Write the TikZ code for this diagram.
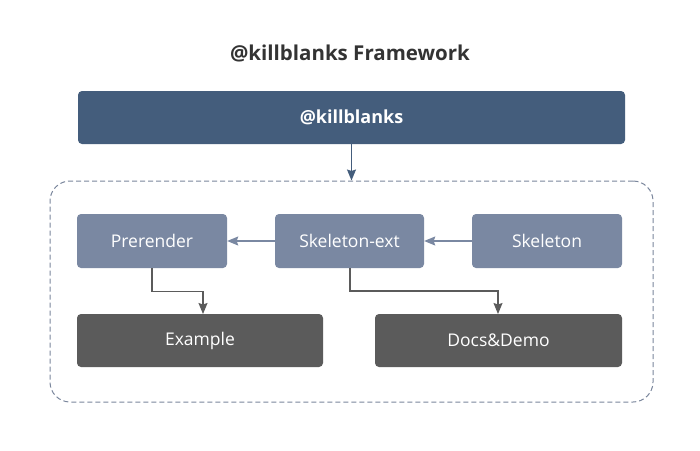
\documentclass[tikz,border=0pt]{standalone}
\usepackage{fontspec}
\setmainfont{Open Sans}
\usetikzlibrary{arrows.meta}
\definecolor{topblue}{HTML}{445D7C}
\definecolor{midblue}{HTML}{7A88A2}
\definecolor{darkgray}{HTML}{5B5B5B}
\definecolor{titlegray}{HTML}{333333}
\definecolor{dashgray}{HTML}{7A869C}
\begin{document}
\begin{tikzpicture}[x=1pt,y=-1pt,
  boxstyle/.style={rounded corners=4pt, inner sep=0pt, text=white, font=\fontsize{17.5}{20}\selectfont},
  lightbox/.style={boxstyle, fill=midblue},
  darkbox/.style={boxstyle, fill=darkgray},
  arrowtip/.style={-{Stealth[length=11pt,width=9pt,inset=1.5pt]}, line width=1.2pt}
]
\useasboundingbox (0,0) rectangle (700,450);
\fill[white] (0,0) rectangle (700,450);
\node[font=\bfseries\fontsize{20.5}{24}\selectfont, text=titlegray] (title) at (350,53) {@killblanks Framework};
\node[boxstyle, fill=topblue, minimum width=547pt, minimum height=53pt, font=\bfseries\fontsize{18}{21}\selectfont] (kb) at (351.5,117.5) {@killblanks};
\node[draw=dashgray, dash pattern=on 5pt off 3pt, line width=1pt, rounded corners=20pt, minimum width=603pt, minimum height=221pt, inner sep=0pt] (cont) at (351.5,291.5) {};
\node[lightbox, minimum width=150pt, minimum height=54pt] (pre) at (152,241) {Prerender};
\node[lightbox, minimum width=149pt, minimum height=54pt] (ext) at (349.5,241) {Skeleton-ext};
\node[lightbox, minimum width=150pt, minimum height=54pt] (sk) at (547,241) {Skeleton};
\node[darkbox, minimum width=246pt, minimum height=53pt] (ex) at (200,340.5) {Example};
\node[darkbox, minimum width=247pt, minimum height=53pt] (docs) at (498.5,340.5) {Docs\&Demo};
\draw[arrowtip, draw=topblue] (kb.south) -- (cont.north);
\draw[arrowtip, draw=midblue] (ext.west) -- (pre.east);
\draw[arrowtip, draw=midblue] (sk.west) -- (ext.east);
\coordinate (exin) at (203,314);
\coordinate (docsin) at (498,314);
\draw[arrowtip, draw=darkgray] (pre.south) -- ++(0,23) -| (exin);
\draw[arrowtip, draw=darkgray] (ext.south -| 350,0) -- (350,291) -| (docsin);
\end{tikzpicture}
\end{document}
